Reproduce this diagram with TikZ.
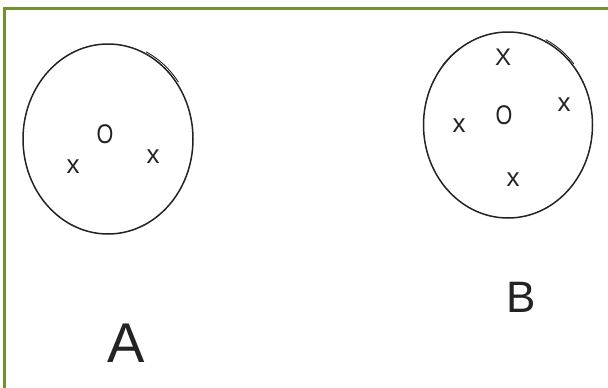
\documentclass[tikz,border=0pt]{standalone}
\usepackage{fontspec}
\setmainfont{Liberation Sans}
\usetikzlibrary{shapes.geometric}
\definecolor{framegreen}{RGB}{112,146,48}
\definecolor{ink}{RGB}{35,35,35}

\begin{document}
\begin{tikzpicture}[x=1pt,y=-1pt,
  ring/.style={draw=ink,ellipse,line width=1.5pt,inner sep=0pt},
  crossmark/.style={text=ink,font=\fontsize{26}{26}\selectfont,inner sep=0pt},
  ringmark/.style={text=ink,font=\fontsize{27}{27}\selectfont,inner sep=0pt,xscale=0.8},
  tag/.style={text=ink,inner sep=0pt}]
\clip (0,0) rectangle (608,388);
\fill[white] (0,0) rectangle (608,388);
\draw[framegreen,line width=3pt] (4,8) rectangle (640,420);

% circle A
\node[ring,minimum width=170pt,minimum height=190pt] (cA) at (108,139) {};
\draw[ink,line width=0.9pt] (cA.center) ++(-64:87 and 97) arc[start angle=-64,end angle=-36,x radius=87,y radius=97];
\node[ringmark] (oA) at (105,134) {O};
\node[crossmark] (xA1) at (73,167) {x};
\node[crossmark] (xA2) at (153,157) {x};

% circle B
\node[ring,minimum width=169pt,minimum height=186pt] (cB) at (508,125) {};
\draw[ink,line width=0.9pt] (cB.center) ++(-64:86 and 95) arc[start angle=-64,end angle=-40,x radius=86,y radius=95];
\draw[ink,line width=1.2pt] (cB.center) ++(-140:85 and 93) arc[start angle=-140,end angle=-125,x radius=85,y radius=93];
\node[ringmark] (oB) at (504,115) {O};
\node[crossmark,font=\fontsize{24}{24}\selectfont] (xB1) at (503,57) {X};
\node[crossmark] (xB2) at (564,105) {x};
\node[crossmark] (xB3) at (459,126) {x};
\node[crossmark] (xB4) at (513,180) {x};

% labels
\node[tag,font=\fontsize{56}{56}\selectfont] (lA) at (126,343) {A};
\node[tag,font=\fontsize{44}{44}\selectfont] (lB) at (521,297) {B};
\end{tikzpicture}
\end{document}
